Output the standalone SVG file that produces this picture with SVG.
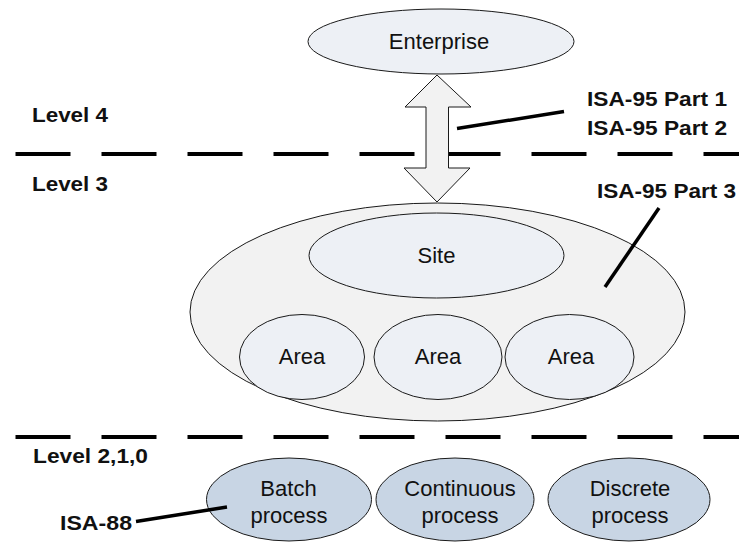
<svg xmlns="http://www.w3.org/2000/svg" width="739" height="542" viewBox="0 0 739 542">
  <style>
    .bg { fill: #ffffff; }
    .light { fill: #edf0f5; stroke: #1a1a1a; stroke-width: 1; }
    .grey { fill: #f2f2f2; stroke: #1a1a1a; stroke-width: 1; }
    .proc { fill: #c8d5e4; stroke: #1a1a1a; stroke-width: 1; }
    .lbl { font-family: "Liberation Sans", Arial, sans-serif; font-size: 22px; fill: #111111; text-anchor: middle; }
    .bold { font-family: "Liberation Sans", Arial, sans-serif; font-size: 21px; font-weight: bold; fill: #111111; }
    .dash { stroke: #000000; stroke-width: 4; stroke-dasharray: 55 31; fill: none; }
    .ptr { stroke: #000000; stroke-width: 3.5; fill: none; }
  </style>
  <rect class="bg" x="0" y="0" width="739" height="542"/>

  <g id="levels">
    <line class="dash" x1="15.5" y1="154" x2="739" y2="154"/>
    <line class="dash" x1="15.5" y1="437" x2="739" y2="437"/>
    <text class="bold" x="32" y="121.5" textLength="76" lengthAdjust="spacingAndGlyphs">Level 4</text>
    <text class="bold" x="32" y="191" textLength="76" lengthAdjust="spacingAndGlyphs">Level 3</text>
    <text class="bold" x="33" y="463" textLength="115" lengthAdjust="spacingAndGlyphs">Level 2,1,0</text>
  </g>

  <g id="enterprise">
    <ellipse class="light" cx="441" cy="41.5" rx="133" ry="32.5"/>
    <text class="lbl" x="439" y="48.5">Enterprise</text>
  </g>

  <g id="level3">
    <ellipse class="grey" cx="437.5" cy="312" rx="247.5" ry="109"/>
  </g>

  <g id="site">
    <ellipse class="light" cx="436.5" cy="255.5" rx="127.5" ry="42.5"/>
    <text class="lbl" x="436.5" y="262.5">Site</text>
  </g>

  <g id="area1">
    <ellipse class="light" cx="302" cy="357" rx="62.5" ry="42.5"/>
    <text class="lbl" x="302" y="363.5">Area</text>
  </g>
  <g id="area2">
    <ellipse class="light" cx="438" cy="357" rx="64" ry="42.5"/>
    <text class="lbl" x="438" y="363.5">Area</text>
  </g>
  <g id="area3">
    <ellipse class="light" cx="569.5" cy="357" rx="64.5" ry="42.5"/>
    <text class="lbl" x="571" y="363.5">Area</text>
  </g>

  <g id="batch">
    <ellipse class="proc" cx="289" cy="499.5" rx="82.5" ry="41.5"/>
    <text class="lbl" x="288.5" y="496">Batch</text>
    <text class="lbl" x="289" y="522.5">process</text>
  </g>
  <g id="continuous">
    <ellipse class="proc" cx="455" cy="499.5" rx="79" ry="41.5"/>
    <text class="lbl" x="460" y="496">Continuous</text>
    <text class="lbl" x="460" y="522.5">process</text>
  </g>
  <g id="discrete">
    <ellipse class="proc" cx="629" cy="499.5" rx="81" ry="41.5"/>
    <text class="lbl" x="630" y="496">Discrete</text>
    <text class="lbl" x="630" y="522.5">process</text>
  </g>

  <g id="connectors">
    <polygon class="grey" points="437,75 471,107 448.5,107 448.5,168 470,168 437,202 404,168 426,168 426,107 405,107"/>
    <line class="ptr" x1="457" y1="128.5" x2="564" y2="111.5"/>
    <line class="ptr" x1="659" y1="208" x2="605" y2="287"/>
    <line class="ptr" x1="136" y1="521.5" x2="227" y2="507"/>
  </g>

  <g id="standards">
    <text class="bold" x="587" y="106" textLength="140" lengthAdjust="spacingAndGlyphs">ISA-95 Part 1</text>
    <text class="bold" x="587" y="135" textLength="140" lengthAdjust="spacingAndGlyphs">ISA-95 Part 2</text>
    <text class="bold" x="597" y="197.5" textLength="139" lengthAdjust="spacingAndGlyphs">ISA-95 Part 3</text>
    <text class="bold" x="60" y="530" textLength="72" lengthAdjust="spacingAndGlyphs">ISA-88</text>
  </g>
</svg>
